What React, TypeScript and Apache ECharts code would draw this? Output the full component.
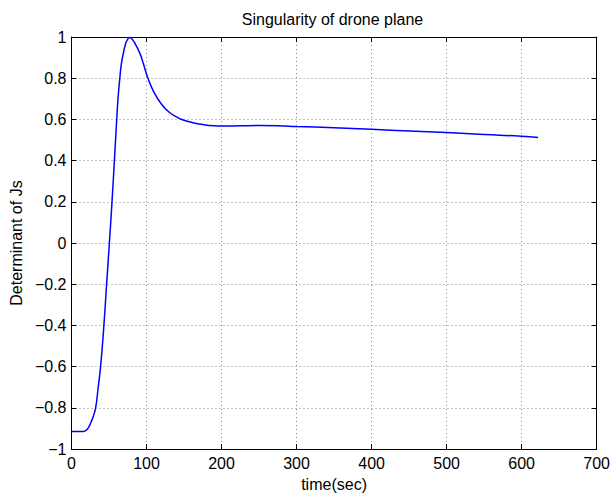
import React, { useEffect, useRef } from "react";
import * as echarts from "echarts";

const times = [0, 10, 16, 20, 23, 26, 29, 32.2, 35.6, 38.8, 43.2, 46.8, 50.5, 54, 57.2, 60.3, 62, 64.4, 66.5, 68.8, 72, 75, 77.6, 80, 84.3, 90.9, 95, 101.9, 110, 120, 130, 140, 147, 160, 175, 190, 200, 225, 250, 275, 300, 350, 400, 450, 500, 550, 600, 622];
const determinant = [-0.915, -0.915, -0.914, -0.907, -0.893, -0.87, -0.842, -0.8, -0.7, -0.6, -0.4, -0.2, 0, 0.2, 0.4, 0.6, 0.7, 0.8, 0.87, 0.915, 0.965, 0.99, 0.997, 0.993, 0.971, 0.923, 0.88, 0.8, 0.731, 0.674, 0.636, 0.612, 0.6, 0.586, 0.575, 0.569, 0.568, 0.569, 0.57, 0.569, 0.566, 0.56, 0.552, 0.544, 0.536, 0.527, 0.518, 0.512];

const titleText = "Singularity of drone plane";
const xName = "time(sec)";
const yName = "Determinant of Js";

const FONT = "'Liberation Sans', Arial, Helvetica, sans-serif";

export default function App() {
  const ref = useRef<HTMLDivElement>(null);
  useEffect(() => {
    if (!ref.current) return;
    const chart = echarts.init(ref.current, undefined, { renderer: "svg" });
    const data = times.map((t, i) => [t, determinant[i]]);
    const gridLine = { show: true, lineStyle: { color: "#8a8a8a", type: [1, 3] as any, width: 1 } };
    const fmtY = (v: number) => parseFloat(v.toFixed(1)).toString().replace("-", "\u2212");
    const tick = { show: true, inside: true, length: 5, lineStyle: { color: "#000" } };
    const line = { show: true, onZero: false, lineStyle: { color: "#000", width: 1 } };
    chart.setOption({
      animation: false,
      backgroundColor: "#fff",
      textStyle: { fontFamily: FONT },
      graphic: [
        {
          type: "text",
          x: 332.5,
          y: 19,
          style: { text: titleText, fontSize: 16, fontFamily: FONT, fill: "#000", textAlign: "center", textVerticalAlign: "middle" },
        },
      ],
      grid: { left: 68, right: 16, top: 37, bottom: 43, containLabel: false },
      xAxis: [
        {
          type: "value",
          min: 0,
          max: 700,
          interval: 100,
          position: "bottom",
          name: xName,
          nameLocation: "middle",
          nameGap: 22,
          nameTextStyle: { fontSize: 16, color: "#000", fontFamily: FONT },
          axisLine: line,
          axisTick: tick,
          axisLabel: { fontSize: 16, color: "#000", margin: 6, fontFamily: FONT },
          splitLine: gridLine,
        },
        {
          type: "value",
          min: 0,
          max: 700,
          interval: 100,
          position: "top",
          axisLine: line,
          axisTick: tick,
          axisLabel: { show: false },
          splitLine: { show: false },
        },
      ],
      yAxis: [
        {
          type: "value",
          min: -1,
          max: 1,
          interval: 0.2,
          position: "left",
          name: yName,
          nameLocation: "middle",
          nameGap: 44,
          nameRotate: 90,
          nameTextStyle: { fontSize: 16, color: "#000", fontFamily: FONT },
          axisLine: line,
          axisTick: tick,
          axisLabel: { fontSize: 16, color: "#000", margin: 5, formatter: fmtY, fontFamily: FONT },
          splitLine: gridLine,
        },
        {
          type: "value",
          min: -1,
          max: 1,
          interval: 0.2,
          position: "right",
          axisLine: line,
          axisTick: tick,
          axisLabel: { show: false },
          splitLine: { show: false },
        },
      ],
      series: [
        {
          type: "line",
          data,
          xAxisIndex: 0,
          yAxisIndex: 0,
          showSymbol: false,
          smooth: 0.5,
          lineStyle: { color: "#0000ff", width: 1.5 },
        },
      ],
    });
    return () => chart.dispose();
  }, []);
  return <div ref={ref} style={{ position: "fixed", left: 0, top: 0, width: 613, height: 497 }} />;
}
